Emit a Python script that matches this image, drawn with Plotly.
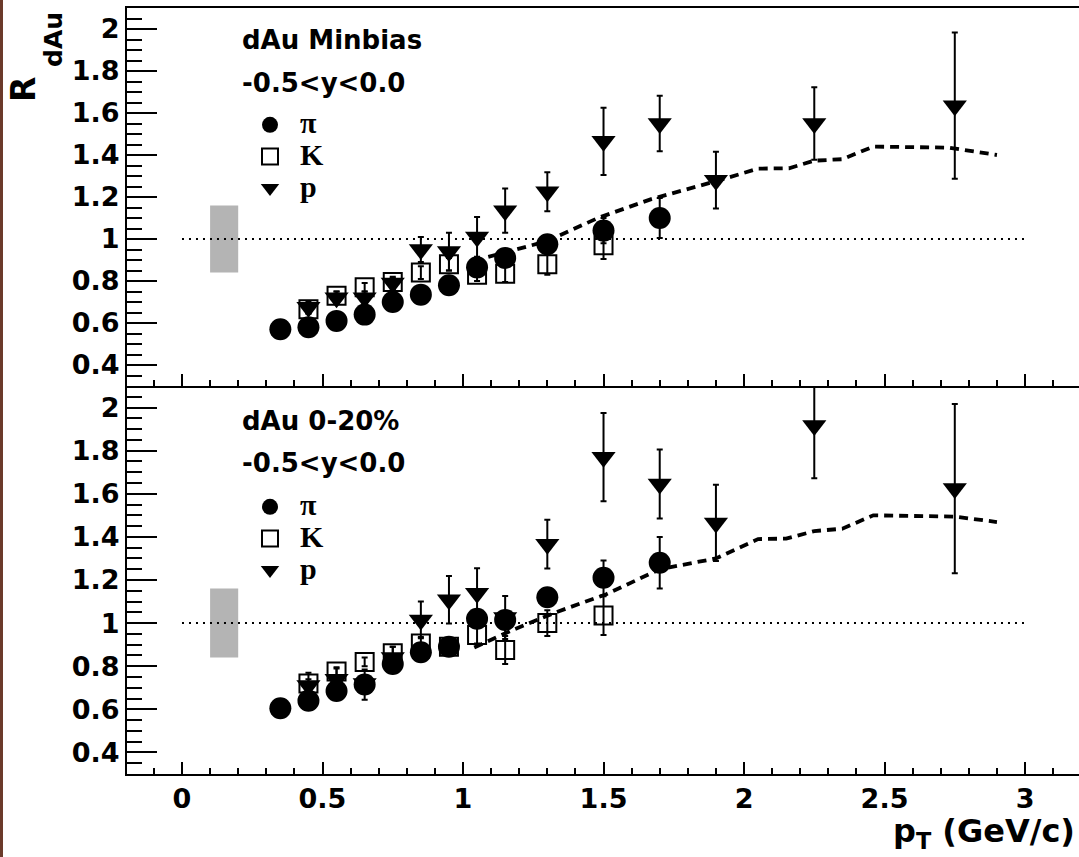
import plotly.graph_objects as go

# ---------------- data ----------------
pt_pi = [0.35, 0.45, 0.55, 0.65, 0.75, 0.85, 0.95, 1.05, 1.15, 1.3, 1.5, 1.7]
pt_K = [0.45, 0.55, 0.65, 0.75, 0.85, 0.95, 1.05, 1.15, 1.3, 1.5]
pt_p = [0.45, 0.55, 0.65, 0.75, 0.85, 0.95, 1.05, 1.15, 1.3, 1.5, 1.7, 1.9, 2.25, 2.75]

# dAu Minbias
mb_pi = [0.57, 0.58, 0.61, 0.64, 0.70, 0.735, 0.78, 0.865, 0.91, 0.975, 1.04, 1.10]
mb_pi_err = [0.02, 0.02, 0.02, 0.02, 0.02, 0.02, 0.02, 0.03, 0.03, 0.03, 0.06, 0.095]
mb_K = [0.665, 0.73, 0.77, 0.795, 0.84, 0.88, 0.83, 0.835, 0.88, 0.97]
mb_K_err = [0.02, 0.02, 0.02, 0.02, 0.03, 0.03, 0.03, 0.04, 0.05, 0.065]
mb_p = [0.675, 0.72, 0.72, 0.79, 0.95, 0.94, 1.01, 1.135, 1.225, 1.465, 1.55, 1.28, 1.55, 1.635]
mb_p_err = [0.03, 0.03, 0.03, 0.03, 0.06, 0.09, 0.095, 0.105, 0.093, 0.16, 0.132, 0.135, 0.173, 0.348]

# dAu 0-20%
c_pi = [0.605, 0.64, 0.685, 0.715, 0.81, 0.865, 0.89, 1.02, 1.015, 1.12, 1.21, 1.28]
c_pi_err = [0.02, 0.02, 0.03, 0.07, 0.02, 0.02, 0.03, 0.03, 0.03, 0.03, 0.08, 0.12]
c_K = [0.72, 0.775, 0.82, 0.86, 0.905, 0.89, 0.945, 0.875, 1.0, 1.035]
c_K_err = [0.02, 0.02, 0.02, 0.03, 0.03, 0.03, 0.04, 0.065, 0.06, 0.09]
c_p = [0.71, 0.74, 0.72, 0.84, 1.015, 1.108, 1.139, 1.026, 1.366, 1.77, 1.645, 1.465, 1.917, 1.624]
c_p_err = [0.06, 0.05, 0.03, 0.05, 0.085, 0.11, 0.115, 0.10, 0.113, 0.205, 0.16, 0.177, 0.245, 0.393]

# dashed model curves
mb_curve_x = [1.09, 1.30, 1.48, 1.67, 1.90, 2.05, 2.16, 2.25, 2.35, 2.46, 2.73, 2.90]
mb_curve_y = [0.915, 0.99, 1.10, 1.19, 1.275, 1.335, 1.337, 1.373, 1.38, 1.44, 1.435, 1.40]
c_curve_x = [1.04, 1.18, 1.33, 1.51, 1.70, 1.90, 2.05, 2.15, 2.25, 2.35, 2.46, 2.75, 2.90]
c_curve_y = [0.887, 0.97, 1.05, 1.134, 1.25, 1.30, 1.39, 1.392, 1.427, 1.438, 1.50, 1.494, 1.469]

# reference line and normalisation uncertainty box
unity_x = [0.0, 3.0]
unity_y = [1.0, 1.0]
norm_box_x = [0.1, 0.2]
norm_box_y = [0.84, 1.16]

species_names = ["π", "K", "p"]

# ---------------- geometry ----------------
W, H = 1079, 857
ML, MR, MT, MB = 127, 0, 8, 83
PW, PH = W - ML - MR, H - MT - MB
SPLIT = (H - MB - 386) / PH


def px(xpix):
    return (xpix - ML) / PW


def py(ypix):
    return (H - MB - ypix) / PH


SANS = "DejaVu Sans"
SERIF = "Liberation Serif"

fig = go.Figure()


def add_panel(xa, ya, legend, pis, pie, ks, ke, ps, pe, cx, cy):
    eb = dict(type="data", width=3, thickness=2, color="black")
    fig.add_trace(go.Scatter(x=unity_x, y=unity_y, mode="lines", xaxis=xa, yaxis=ya,
                             line=dict(color="black", width=2, dash="2px,5px"),
                             showlegend=False, hoverinfo="skip"))
    fig.add_trace(go.Scatter(x=pt_K, y=ks, mode="markers", xaxis=xa, yaxis=ya,
                             name='<span style="font-size:30px">%s</span>' % species_names[1],
                             legend=legend, legendrank=2,
                             error_y=dict(array=ke, **eb),
                             marker=dict(symbol="square-open", size=18, color="black",
                                         line=dict(width=2, color="black"))))
    fig.add_trace(go.Scatter(x=pt_p, y=ps, mode="markers", xaxis=xa, yaxis=ya,
                             name='<span style="font-size:30px">%s</span>' % species_names[2],
                             legend=legend, legendrank=3,
                             error_y=dict(array=pe, **eb),
                             marker=dict(symbol="triangle-down", size=21, color="black")))
    fig.add_trace(go.Scatter(x=pt_pi, y=pis, mode="markers", xaxis=xa, yaxis=ya,
                             name='<span style="font-size:30px">%s</span>' % species_names[0],
                             legend=legend, legendrank=1,
                             error_y=dict(array=pie, **eb),
                             marker=dict(symbol="circle", size=22, color="black")))
    fig.add_trace(go.Scatter(x=cx, y=cy, mode="lines", xaxis=xa, yaxis=ya,
                             line=dict(color="black", width=3.8, dash="9px,6px"),
                             showlegend=False, hoverinfo="skip"))
    fig.add_shape(type="rect", xref=xa, yref=ya, x0=norm_box_x[0], x1=norm_box_x[1],
                  y0=norm_box_y[0], y1=norm_box_y[1], fillcolor="#b4b4b4",
                  line=dict(width=0), layer="below")


add_panel("x2", "y2", "legend", mb_pi, mb_pi_err, mb_K, mb_K_err, mb_p, mb_p_err,
          mb_curve_x, mb_curve_y)
add_panel("x", "y", "legend2", c_pi, c_pi_err, c_K, c_K_err, c_p, c_p_err,
          c_curve_x, c_curve_y)

tickfont = dict(family=SANS, size=27, color="black", weight="bold")
xcommon = dict(range=[-0.1957, 3.192], dtick=0.5, tick0=0, ticks="inside", ticklen=12,
               tickwidth=2, tickcolor="black", showline=True, linewidth=2, linecolor="black",
               showgrid=False, zeroline=False, tickfont=tickfont,
               minor=dict(dtick=0.1, tick0=0, ticks="inside", ticklen=6, tickwidth=2,
                          tickcolor="black", showgrid=False))
ycommon = dict(range=[0.3, 2.1], dtick=0.2, tick0=0, ticks="inside", ticklen=30,
               tickwidth=2, tickcolor="black", showline=True, linewidth=2, linecolor="black",
               showgrid=False, zeroline=False, tickfont=tickfont,
               minor=dict(dtick=0.05, tick0=0, ticks="inside", ticklen=15, tickwidth=2,
                          tickcolor="black", showgrid=False))

legfont = dict(family=SERIF, size=22, color="black", weight="bold")
legcommon = dict(font=legfont, bgcolor="rgba(0,0,0,0)", borderwidth=0, xanchor="left",
                 yanchor="top", itemwidth=50, tracegroupgap=0, itemclick=False)

fig.update_layout(
    width=W, height=H,
    margin=dict(l=ML, r=MR, t=MT, b=MB, pad=0),
    paper_bgcolor="white", plot_bgcolor="white",
    xaxis=dict(anchor="y", **xcommon),
    xaxis2=dict(anchor="y2", matches="x", showticklabels=False, mirror=True, **xcommon),
    yaxis=dict(domain=[0, SPLIT], anchor="x", **ycommon),
    yaxis2=dict(domain=[SPLIT, 1], anchor="x2", **ycommon),
    legend=dict(x=px(240), y=py(104), **legcommon),
    legend2=dict(x=px(240), y=py(486), **legcommon),
    showlegend=True,
)

txtfont = dict(family=SANS, size=26, color="black", weight="bold")
annots = [
    ("dAu Minbias", 240, 40),
    ("-0.5&lt;y&lt;0.0", 240, 83),
    ("dAu 0-20%", 240, 421),
    ("-0.5&lt;y&lt;0.0", 240, 463),
]
for t, xp_, yp_ in annots:
    fig.add_annotation(text=t, xref="paper", yref="paper", x=px(xp_), y=py(yp_),
                       xanchor="left", yanchor="middle", showarrow=False, font=txtfont)

# axis titles
fig.add_annotation(text="R", xref="paper", yref="paper", x=px(24), y=py(90),
                   xanchor="center", yanchor="middle", textangle=-90, showarrow=False,
                   font=dict(family=SANS, size=33, color="black", weight="bold"))
fig.add_annotation(text="dAu", xref="paper", yref="paper", x=px(54), y=py(40),
                   xanchor="center", yanchor="middle", textangle=-90, showarrow=False,
                   font=dict(family=SANS, size=25, color="black", weight="bold"))
fig.add_annotation(text="p<sub>T</sub> (GeV/c)", xref="paper", yref="paper", x=px(1077),
                   y=py(856), xanchor="right", yanchor="bottom", showarrow=False,
                   font=dict(family=SANS, size=32, color="black", weight="bold"))

# dark edge strip on the left of the original picture
fig.add_shape(type="rect", xref="paper", yref="paper", x0=px(0), x1=px(3),
              y0=py(H), y1=py(0), fillcolor="#6b3a2a", line=dict(width=0), layer="above")

fig.write_html("out.html", config={"displayModeBar": False})
